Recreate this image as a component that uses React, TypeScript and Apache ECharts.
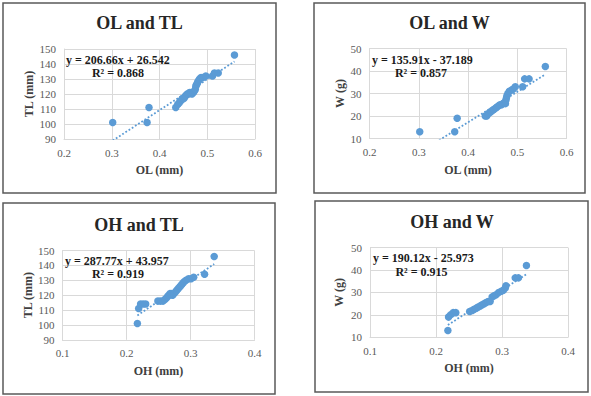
import React, { useEffect, useRef } from "react";
import * as echarts from "echarts";

// ---- data ----
const olTl: [number, number][] = [
  [0.302, 101], [0.374, 101], [0.378, 111], [0.434, 111],
  [0.438, 113], [0.441, 114], [0.443, 115], [0.446, 116], [0.448, 117], [0.451, 117],
  [0.453, 118], [0.455, 119], [0.458, 120], [0.461, 120], [0.463, 121], [0.466, 121],
  [0.468, 120], [0.471, 121], [0.473, 122], [0.475, 123], [0.476, 125], [0.477, 126],
  [0.479, 127], [0.48, 128], [0.482, 129], [0.484, 130], [0.487, 131], [0.491, 131],
  [0.497, 132], [0.511, 132], [0.515, 134], [0.523, 134], [0.557, 146],
];
const olW: [number, number][] = [
  [0.302, 13], [0.373, 13], [0.378, 19], [0.435, 20], [0.438, 20], [0.441, 21],
  [0.444, 21.5], [0.447, 22], [0.45, 22.5], [0.453, 23], [0.456, 23.5], [0.459, 24],
  [0.462, 24.5], [0.465, 25], [0.468, 25], [0.471, 25.5], [0.474, 26], [0.476, 25.5],
  [0.477, 27], [0.478, 28], [0.479, 29], [0.481, 30], [0.484, 31], [0.488, 31.5],
  [0.492, 32], [0.496, 33], [0.511, 33], [0.515, 36.5], [0.524, 36.5], [0.557, 42],
];
const ohTl: [number, number][] = [
  [0.217, 101], [0.219, 111], [0.222, 114], [0.226, 114], [0.23, 114], [0.249, 116],
  [0.253, 116], [0.257, 116], [0.26, 117], [0.262, 118], [0.264, 119], [0.266, 120],
  [0.268, 121], [0.27, 121], [0.272, 120], [0.274, 121], [0.276, 122], [0.278, 123],
  [0.28, 124], [0.282, 125], [0.284, 126], [0.286, 127], [0.288, 128], [0.29, 129],
  [0.293, 130], [0.297, 131], [0.301, 131], [0.305, 132], [0.322, 134], [0.337, 146],
];
const ohW: [number, number][] = [
  [0.218, 13], [0.219, 19], [0.222, 20], [0.226, 21], [0.23, 21], [0.251, 21.5],
  [0.255, 22], [0.258, 22.5], [0.261, 23], [0.264, 23.5], [0.267, 24], [0.27, 24.5],
  [0.273, 25], [0.276, 25.5], [0.279, 26], [0.282, 26], [0.285, 28], [0.288, 28.5],
  [0.291, 29], [0.295, 30], [0.299, 30.5], [0.302, 31], [0.305, 32], [0.306, 33],
  [0.32, 36.5], [0.325, 36.5], [0.337, 42],
];

const titles = ["OL and TL", "OL and W", "OH and TL", "OH and W"];
const xNames = ["OL (mm)", "OL (mm)", "OH (mm)", "OH (mm)"];
const yNames = ["TL (mm)", "W (g)", "TL (mm)", "W (g)"];
const seriesData = [olTl, olW, ohTl, ohW];
const slopes = [206.66, 135.91, 287.77, 190.12];
const intercepts = [26.542, -37.189, 43.957, -25.973];
const equations = ["y = 206.66x + 26.542", "y = 135.91x - 37.189", "y = 287.77x + 43.957", "y = 190.12x - 25.973"];
const r2Labels = ["R² = 0.868", "R² = 0.857", "R² = 0.919", "R² = 0.915"];
const xRanges = [[0.2, 0.6], [0.2, 0.6], [0.1, 0.4], [0.1, 0.4]];
const yRanges = [[90, 150], [10, 50], [90, 150], [10, 50]];
const xStep = 0.1;
const yStep = 10;

// ---- layout ----
const frames = [
  { x: 3, y: 3, w: 273, h: 190 },
  { x: 314, y: 3, w: 271, h: 190 },
  { x: 3, y: 203, w: 272, h: 191 },
  { x: 315, y: 201, w: 273, h: 191 },
];
const grids = [
  { left: 64, top: 49, width: 191, height: 90 },
  { left: 369.5, top: 48.5, width: 197, height: 90 },
  { left: 62.5, top: 250.5, width: 192, height: 89.3 },
  { left: 370, top: 247.6, width: 198, height: 89.7 },
];
const titlePos = [[139.5, 23], [449.5, 23], [139, 225], [452, 222]];
const eqPos = [[66, 59.5], [372, 59.5], [65, 260.5], [373, 257.5]];
const r2Pos = [[118, 72.5], [421, 72.5], [118, 273.5], [421.5, 271.5]];
const yNameGaps = [29, 24, 29, 25];

const SERIF = "'Liberation Serif', 'Times New Roman', serif";
const BLUE = "#5B9BD5";
const GRID = "#D9D9D9";

export default function App() {
  const ref = useRef<HTMLDivElement>(null);
  useEffect(() => {
    if (!ref.current) return;
    const chart = echarts.init(ref.current, undefined, { renderer: "svg" });
    const xAxis: any[] = [];
    const yAxis: any[] = [];
    const series: any[] = [];
    const graphic: any[] = [];
    for (let i = 0; i < 4; i++) {
      xAxis.push({
        type: "value",
        gridIndex: i,
        min: xRanges[i][0],
        max: xRanges[i][1],
        interval: xStep,
        name: xNames[i],
        nameLocation: "middle",
        nameGap: 25,
        nameTextStyle: { fontFamily: SERIF, fontWeight: "bold", fontSize: 12, color: "#404040" },
        axisLine: { show: true, lineStyle: { color: GRID, width: 1 } },
        axisTick: { show: false },
        axisLabel: { fontFamily: SERIF, fontSize: 11, color: "#595959", margin: 8 },
        splitLine: { show: true, lineStyle: { color: GRID, width: 1 } },
      });
      yAxis.push({
        type: "value",
        gridIndex: i,
        min: yRanges[i][0],
        max: yRanges[i][1],
        interval: yStep,
        name: yNames[i],
        nameLocation: "middle",
        nameGap: yNameGaps[i],
        nameTextStyle: { fontFamily: SERIF, fontWeight: "bold", fontSize: 12, color: "#404040" },
        axisLine: { show: true, lineStyle: { color: GRID, width: 1 } },
        axisTick: { show: false },
        axisLabel: { fontFamily: SERIF, fontSize: 11, color: "#595959", margin: 8 },
        splitLine: { show: true, lineStyle: { color: GRID, width: 1 } },
      });
      const d = seriesData[i];
      series.push({
        type: "scatter",
        xAxisIndex: i,
        yAxisIndex: i,
        data: d,
        symbolSize: 7.5,
        itemStyle: { color: BLUE, opacity: 1 },
      });
      const xs = d.map((p) => p[0]);
      const x0 = Math.min(...xs);
      const x1 = Math.max(...xs);
      series.push({
        type: "line",
        xAxisIndex: i,
        yAxisIndex: i,
        data: [
          [x0, slopes[i] * x0 + intercepts[i]],
          [x1, slopes[i] * x1 + intercepts[i]],
        ],
        symbol: "none",
        clip: true,
        lineStyle: { color: BLUE, width: 1.8, type: [1.8, 2], cap: "butt" },
        z: 3,
      });
      const f = frames[i];
      graphic.push({
        type: "rect",
        shape: { x: f.x, y: f.y, width: f.w, height: f.h },
        style: { fill: "none", stroke: "#595959", lineWidth: 1.5 },
        z: 10,
      });
      graphic.push({
        type: "text",
        x: titlePos[i][0],
        y: titlePos[i][1],
        style: {
          text: titles[i],
          font: `bold 18px ${SERIF}`,
          fill: "#262626",
          align: "center",
          verticalAlign: "middle",
        },
      });
      graphic.push({
        type: "text",
        x: eqPos[i][0],
        y: eqPos[i][1],
        style: {
          text: equations[i],
          font: `bold 12px ${SERIF}`,
          fill: "#1a1a1a",
          align: "left",
          verticalAlign: "middle",
        },
        z: 20,
      });
      graphic.push({
        type: "text",
        x: r2Pos[i][0],
        y: r2Pos[i][1],
        style: {
          text: r2Labels[i],
          font: `bold 12px ${SERIF}`,
          fill: "#1a1a1a",
          align: "center",
          verticalAlign: "middle",
        },
        z: 20,
      });
    }
    chart.setOption({
      animation: false,
      backgroundColor: "#ffffff",
      grid: grids.map((g) => ({ ...g, containLabel: false })),
      xAxis,
      yAxis,
      series,
      graphic,
    });
    return () => chart.dispose();
  }, []);
  return (
    <div
      ref={ref}
      style={{ position: "absolute", left: 0, top: 0, width: 591, height: 396, background: "#fff" }}
    />
  );
}
